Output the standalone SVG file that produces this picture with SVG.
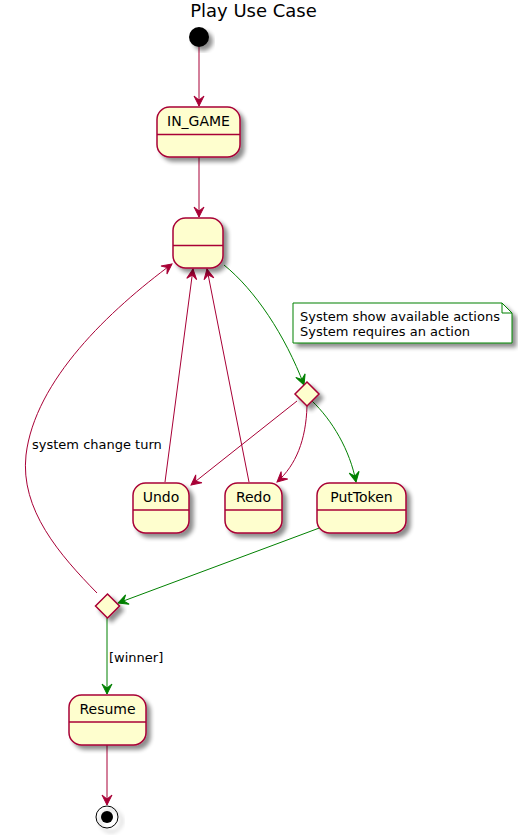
<svg xmlns="http://www.w3.org/2000/svg" width="518" height="837" viewBox="0 0 518 837">
<style>
.st{fill:#FEFECE;stroke:#A80036;stroke-width:1.5}
.dv{stroke:#A80036;stroke-width:1.5;fill:none}
.t14{font-family:"DejaVu Sans",sans-serif;font-size:14px;font-weight:normal;fill:#000}
.t13{font-family:"DejaVu Sans",sans-serif;font-size:13px;fill:#000}
.cr{stroke:#A80036;stroke-width:1;fill:none}
.gr{stroke:#008000;stroke-width:1;fill:none}
.cr.a{marker-end:url(#ar)}
.gr.a{marker-end:url(#ag)}
</style>
<defs>
<filter id="sh" x="-20%" y="-20%" width="150%" height="150%">
<feGaussianBlur in="SourceAlpha" stdDeviation="2"/>
<feOffset dx="4" dy="4" result="b"/>
<feComponentTransfer><feFuncA type="linear" slope="0.45"/></feComponentTransfer>
<feMerge><feMergeNode/><feMergeNode in="SourceGraphic"/></feMerge>
</filter>
<marker id="ar" markerUnits="userSpaceOnUse" viewBox="-11 -6 12 12" refX="0" refY="0" markerWidth="12" markerHeight="12" orient="auto">
<path d="M0,0 L-10,-5 L-6,0 L-10,5 Z" fill="#A80036" stroke="#A80036" stroke-width="1"/>
</marker>
<marker id="ag" markerUnits="userSpaceOnUse" viewBox="-11 -6 12 12" refX="0" refY="0" markerWidth="12" markerHeight="12" orient="auto">
<path d="M0,0 L-10,-5 L-6,0 L-10,5 Z" fill="#008000" stroke="#008000" stroke-width="1"/>
</marker>
</defs>
<rect width="518" height="837" fill="#FFFFFF"/>
<text x="253.5" y="17" text-anchor="middle" font-family="DejaVu Sans, sans-serif" font-size="18">Play Use Case</text>

<g id="connectors">
<path class="cr a" d="M199,47 L199,106"/>
<path class="cr a" d="M199,157 L199,217"/>
<path class="gr a" d="M224,265 C255,290 285,335 304,385"/>
<path class="cr a" d="M297,401 L191,485"/>
<path class="cr a" d="M307,406 C306,440 296,465 277,482"/>
<path class="gr a" d="M312,401 C332,420 350,450 356,482"/>
<path class="cr a" d="M165,482 L193,269"/>
<path class="cr a" d="M249,482 L207,269"/>
<path class="gr a" d="M322,527 L118,603"/>
<path class="cr a" d="M97,593 C60,555 20,510 26,455 C35,380 110,310 172,264"/>
<path class="gr a" d="M107,618 L107,694"/>
<path class="cr a" d="M107,745 L107,805"/>
<text class="t13" x="32" y="449">system change turn</text>
<text class="t13" x="109" y="662">[winner]</text>
</g>

<g id="start"><circle cx="199" cy="37" r="10" fill="#000" filter="url(#sh)"/></g>

<g id="in_game">
<rect class="st" x="157" y="107" width="83" height="50" rx="12.5" filter="url(#sh)"/>
<line class="dv" x1="157" y1="134.5" x2="240" y2="134.5"/>
<text class="t14" x="198.5" y="126" text-anchor="middle">IN_GAME</text>
</g>

<g id="turn">
<rect class="st" x="173" y="218" width="50" height="50" rx="12.5" filter="url(#sh)"/>
<line class="dv" x1="173" y1="245.5" x2="223" y2="245.5"/>
</g>

<g id="note">
<path d="M293,303 L502,303 L512,313 L512,343 L293,343 Z" fill="#FFFFFF" stroke="#008000" stroke-width="1" filter="url(#sh)"/>
<path d="M502,303 L502,313 L512,313" fill="none" stroke="#008000" stroke-width="1"/>
<text class="t13" x="300" y="321">System show available actions</text>
<text class="t13" x="300" y="336">System requires an action</text>
</g>

<g id="choice1"><polygon class="st" points="307,382 319,394 307,406 295,394" filter="url(#sh)"/></g>

<g id="undo">
<rect class="st" x="133" y="483" width="56" height="50" rx="12.5" filter="url(#sh)"/>
<line class="dv" x1="133" y1="510" x2="189" y2="510"/>
<text class="t14" x="161" y="502" text-anchor="middle">Undo</text>
</g>

<g id="redo">
<rect class="st" x="225" y="483" width="57" height="50" rx="12.5" filter="url(#sh)"/>
<line class="dv" x1="225" y1="510" x2="282" y2="510"/>
<text class="t14" x="253.5" y="502" text-anchor="middle">Redo</text>
</g>

<g id="puttoken">
<rect class="st" x="317" y="483" width="89" height="50" rx="12.5" filter="url(#sh)"/>
<line class="dv" x1="317" y1="510" x2="406" y2="510"/>
<text class="t14" x="361.5" y="502" text-anchor="middle">PutToken</text>
</g>

<g id="choice2"><polygon class="st" points="107.5,594 119.5,606 107.5,618 95.5,606" filter="url(#sh)"/></g>

<g id="resume">
<rect class="st" x="69" y="695" width="77" height="50" rx="12.5" filter="url(#sh)"/>
<line class="dv" x1="69" y1="722" x2="146" y2="722"/>
<text class="t14" x="107.5" y="714" text-anchor="middle">Resume</text>
</g>

<g id="end">
<circle cx="107" cy="817" r="11" fill="none" stroke="#000" stroke-width="1" filter="url(#sh)"/>
<circle cx="107" cy="817" r="6" fill="#000"/>
</g>
</svg>
